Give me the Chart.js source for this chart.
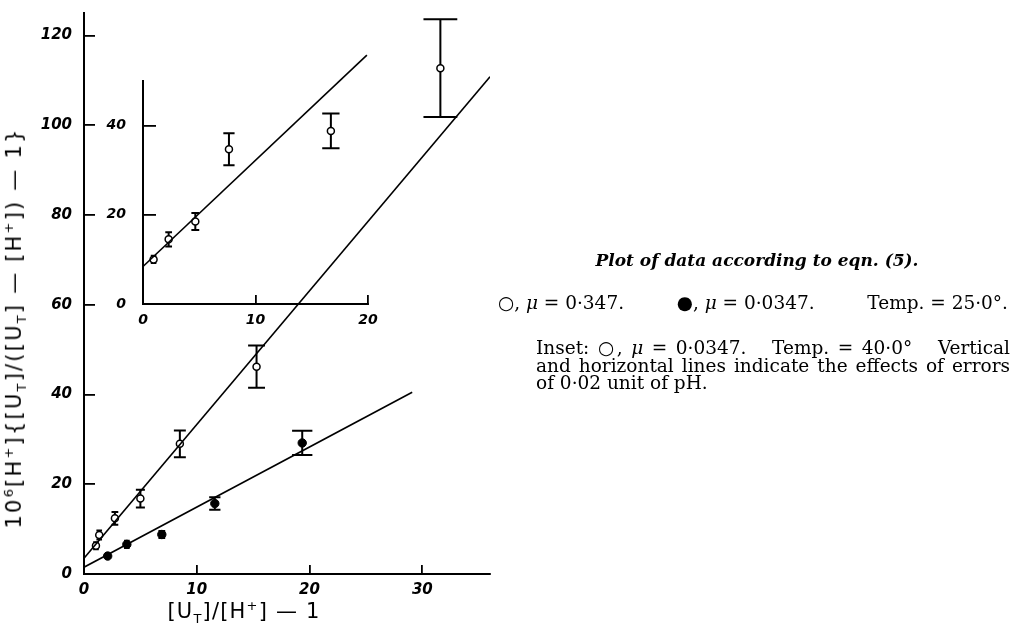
<!DOCTYPE html>
<html lang="en">
<head>
    <meta charset="UTF-8">
    <title>Plot of data according to eqn. (5)</title>
    <script src="https://cdn.jsdelivr.net/npm/chart.js"></script>
    <style>
        body {
            margin: 0;
            background: #fff;
            width: 1016px;
            height: 626px;
            overflow: hidden;
            position: relative;
            font-family: "DejaVu Sans", sans-serif;
            color: #000;
        }
        canvas {
            position: absolute;
            left: 0;
            top: 0;
        }
        .axisTitle {
            position: absolute;
            font-size: 21px;
            white-space: nowrap;
            transform: translate(-50%, -50%);
        }
        .axisTitle sub, .axisTitle sup { font-size: 13px; }
        #yTitle { left: 15px; top: 328px; letter-spacing: 2.2px; transform: translate(-50%, -50%) rotate(-90deg); }
        #xTitle { left: 244px; top: 612px; letter-spacing: 1.2px; }
        .cap {
            position: absolute;
            font-family: "DejaVu Serif", serif;
            font-size: 18.5px;
            white-space: nowrap;
            line-height: 18px;
        }
        #capTitle { left: 757px; top: 251px; transform: translateX(-50%); font-weight: bold; font-style: italic; font-size: 17px; }
        #capLine { left: 498px; top: 294px; width: 510px; display: flex; justify-content: space-between; }
        #capBlock { left: 536px; top: 339px; width: 474px; line-height: 17.5px; }
        #capBlock div { text-align: justify; text-align-last: justify; }
        #capBlock div.last { text-align-last: left; }
    </style>
</head>
<body>
    <canvas id="mainChart" width="1016" height="626"></canvas>
    <canvas id="insetChart" width="1016" height="626"></canvas>

    <div class="axisTitle" id="yTitle">10<sup>6</sup>[H<sup>+</sup>]{[U<sub>T</sub>]/([U<sub>T</sub>] — [H<sup>+</sup>]) — 1}</div>
    <div class="axisTitle" id="xTitle">[U<sub>T</sub>]/[H<sup>+</sup>] — 1</div>

    <div class="cap" id="capTitle">Plot of data according to eqn. (5).</div>
    <div class="cap" id="capLine">
        <span>○, <i>μ</i> = 0·347.</span>
        <span>●, <i>μ</i> = 0·0347.</span>
        <span>Temp. = 25·0°.</span>
    </div>
    <div class="cap" id="capBlock">
        <div>Inset: ○, <i>μ</i> = 0·0347. &nbsp; Temp. = 40·0° &nbsp; Vertical</div>
        <div>and horizontal lines indicate the effects of errors</div>
        <div class="last">of 0·02 unit of pH.</div>
    </div>

    <script>
        // main plot, mu = 0.347 (open circles), 25.0 deg
        const openX = [1.06, 1.35, 2.74, 5.0, 8.5, 15.3, 31.6];
        const openY = [6.3, 8.7, 12.4, 16.8, 29.0, 46.2, 112.7];
        const openErrY = [0.8, 1.0, 1.4, 2.0, 3.0, 4.7, 10.9];
        const openErrX = [0.25, 0.25, 0.3, 0.4, 0.53, 0.75, 1.5];
        const openFitX = [0, 36];
        const openFitY = [3.5, 110.8];

        // main plot, mu = 0.0347 (filled circles), 25.0 deg
        const closedX = [2.1, 3.8, 6.9, 11.6, 19.35];
        const closedY = [4.0, 6.6, 8.8, 15.7, 29.2];
        const closedErrY = [0, 0.8, 0.8, 1.4, 2.7];
        const closedErrX = [0, 0.25, 0.3, 0.5, 0.9];
        const closedFitX = [0, 29.1];
        const closedFitY = [1.5, 40.5];

        // inset, mu = 0.0347, 40.0 deg
        const insetX = [0.94, 2.28, 4.65, 7.64, 16.7];
        const insetY = [10.0, 14.5, 18.5, 34.7, 38.8];
        const insetErrY = [0.8, 1.6, 1.9, 3.6, 3.9];
        const insetErrX = [0.25, 0.3, 0.35, 0.5, 0.77];
        const insetFitX = [0, 19.9];
        const insetFitY = [8.4, 55.8];

        const mainXTicks = [0, 10, 20, 30];
        const mainYTicks = [0, 20, 40, 60, 80, 100, 120];
        const insetXTicks = [0, 10, 20];
        const insetYTicks = [0, 20, 40];

        function pts(xs, ys) {
            return xs.map((x, i) => ({ x: x, y: ys[i] }));
        }

        // vertical + horizontal error lines (pH error effect)
        const errorBars = {
            id: 'errorBars',
            beforeDatasetsDraw(chart) {
                const ctx = chart.ctx;
                const xs = chart.scales.x, ys = chart.scales.y;
                ctx.save();
                ctx.strokeStyle = '#000';
                ctx.lineWidth = 2;
                chart.data.datasets.forEach(ds => {
                    if (!ds.errY) return;
                    ds.data.forEach((p, j) => {
                        const e = ds.errY[j], ex = ds.errX[j];
                        if (!e) return;
                        const px = xs.getPixelForValue(p.x);
                        const top = ys.getPixelForValue(p.y + e);
                        const bot = ys.getPixelForValue(p.y - e);
                        const l = xs.getPixelForValue(p.x - ex);
                        const r = xs.getPixelForValue(p.x + ex);
                        ctx.beginPath();
                        ctx.moveTo(px, top); ctx.lineTo(px, bot);
                        ctx.moveTo(l, top); ctx.lineTo(r, top);
                        ctx.moveTo(l, bot); ctx.lineTo(r, bot);
                        ctx.stroke();
                    });
                });
                ctx.restore();
            }
        };

        function axis(min, max, ticks, tickLen, pad, size, fitProp, fitVal) {
            return {
                type: 'linear',
                min: min,
                max: max,
                afterBuildTicks: s => { s.ticks = ticks.map(v => ({ value: v })); },
                afterFit: s => {
                    s[fitProp] = fitVal;
                    // label overhang must not push the plot area
                    s.paddingTop = s.paddingBottom = s.paddingLeft = s.paddingRight = 0;
                },
                ticks: {
                    color: '#000',
                    padding: pad,
                    font: { family: 'DejaVu Sans', style: 'italic', weight: 'bold', size: size }
                },
                grid: {
                    drawOnChartArea: false,
                    tickLength: tickLen,
                    color: '#000',
                    lineWidth: 1.8
                },
                border: { color: '#000', width: 2 }
            };
        }

        const common = {
            responsive: false,
            animation: false,
            events: [],
            plugins: { legend: { display: false }, tooltip: { enabled: false } }
        };

        new Chart(document.getElementById('mainChart'), {
            type: 'scatter',
            data: {
                datasets: [{
                    type: 'line',
                    data: pts(openFitX, openFitY),
                    borderColor: '#000',
                    borderWidth: 1.6,
                    pointRadius: 0
                }, {
                    type: 'line',
                    data: pts(closedFitX, closedFitY),
                    borderColor: '#000',
                    borderWidth: 1.6,
                    pointRadius: 0
                }, {
                    data: pts(openX, openY),
                    errY: openErrY,
                    errX: openErrX,
                    pointRadius: 3.5,
                    backgroundColor: '#fff',
                    borderColor: '#000',
                    borderWidth: 1.5
                }, {
                    data: pts(closedX, closedY),
                    errY: closedErrY,
                    errX: closedErrX,
                    pointRadius: 4.2,
                    backgroundColor: '#000',
                    borderColor: '#000',
                    borderWidth: 1
                }]
            },
            options: Object.assign({}, common, {
                layout: { padding: { left: 0, top: 13, right: 526, bottom: 0 } },
                scales: {
                    x: axis(0, 36, mainXTicks, -9, 16, 15, 'height', 52),
                    y: axis(0, 125, mainYTicks, -11, 23, 15, 'width', 84)
                }
            }),
            plugins: [errorBars]
        });

        new Chart(document.getElementById('insetChart'), {
            type: 'scatter',
            data: {
                datasets: [{
                    type: 'line',
                    data: pts(insetFitX, insetFitY),
                    borderColor: '#000',
                    borderWidth: 1.6,
                    pointRadius: 0,
                    clip: false
                }, {
                    data: pts(insetX, insetY),
                    errY: insetErrY,
                    errX: insetErrX,
                    pointRadius: 3.5,
                    backgroundColor: '#fff',
                    borderColor: '#000',
                    borderWidth: 1.5
                }]
            },
            options: Object.assign({}, common, {
                layout: { padding: { left: 0, top: 81, right: 648, bottom: 0 } },
                scales: {
                    x: axis(0, 20, insetXTicks, -9, 17, 14, 'height', 322),
                    y: axis(0, 50, insetYTicks, -13, 30, 14, 'width', 143)
                }
            }),
            plugins: [errorBars]
        });
    </script>
</body>
</html>
